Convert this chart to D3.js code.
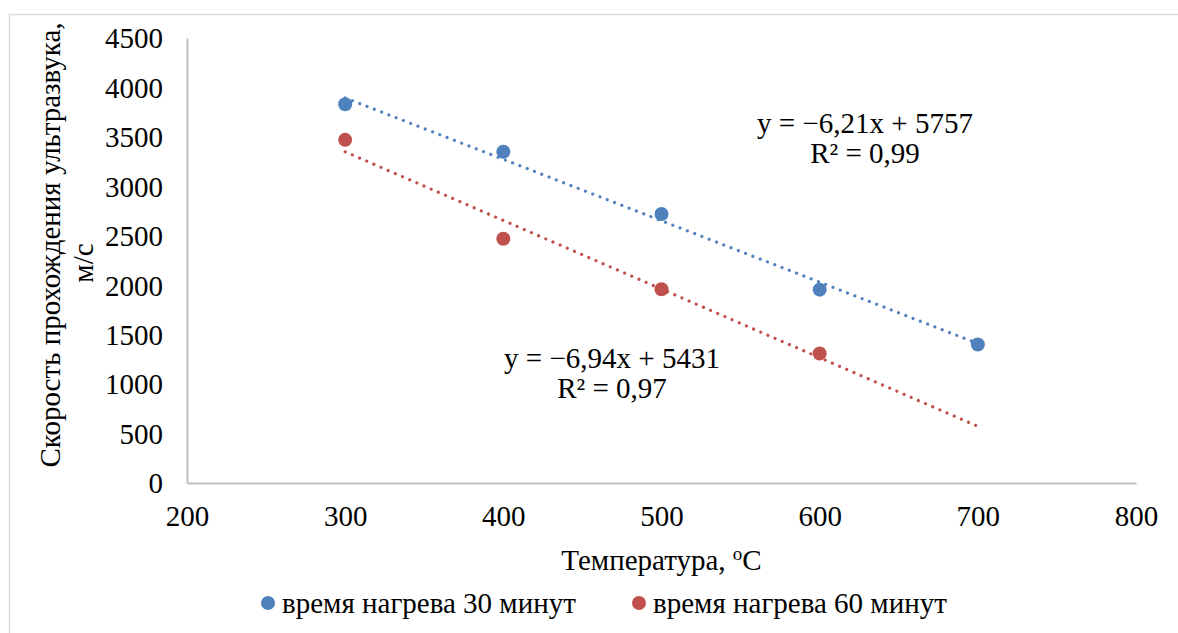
<!DOCTYPE html>
<html>
<head>
<meta charset="utf-8">
<script src="https://cdn.jsdelivr.net/npm/d3@7"></script>
<style>
  body { margin: 0; background: #fff; }
  svg text { font-family: "Liberation Serif", Tinos, "Times New Roman", Times, "DejaVu Serif", serif !important; fill: #000; }
</style>
</head>
<body>
<svg id="chart" width="1178" height="633"></svg>
<script>
// data
var temps30 = [300, 400, 500, 600, 700];
var speed30 = [3830, 3350, 2720, 1955, 1400];
var temps60 = [300, 400, 500, 600];
var speed60 = [3470, 2470, 1960, 1310];

// trend lines (from the equations on the chart)
var trendRange = [300, 700];
var trend30 = [-6.21, 5757];
var trend60 = [-6.94, 5431];
var trendLabels30 = ["y = \u22126,21x + 5757", "R\u00b2 = 0,99"];
var trendLabels60 = ["y = \u22126,94x + 5431", "R\u00b2 = 0,97"];

var xTicks = [200, 300, 400, 500, 600, 700, 800];
var yTicks = [0, 500, 1000, 1500, 2000, 2500, 3000, 3500, 4000, 4500];
var seriesNames = ["время нагрева 30 минут", "время нагрева 60 минут"];
var colors = ["#4f81bd", "#c0504d"];

var svg = d3.select("#chart");
var fs = 29;

// outer frame
svg.append("rect").attr("x", 9.5).attr("y", 14.5).attr("width", 1200).attr("height", 700)
  .attr("fill", "none").attr("stroke", "#d9d9d9").attr("stroke-width", 1.5);

var x = d3.scaleLinear().domain([200, 800]).range([187, 1136]);
var y = d3.scaleLinear().domain([0, 4500]).range([483, 38]);

// axes
var xAxis = svg.append("g").attr("transform", "translate(0," + y(0) + ")")
  .call(d3.axisBottom(x).tickValues(xTicks).tickSize(0).tickPadding(22).tickFormat(d3.format("d")));
var yAxis = svg.append("g").attr("transform", "translate(" + x(200) + ",0)")
  .call(d3.axisLeft(y).tickValues(yTicks).tickSize(0).tickPadding(24).tickFormat(d3.format("d")));
[xAxis, yAxis].forEach(function(a) {
  a.attr("font-family", null).attr("font-size", fs);
  a.select(".domain").attr("stroke", "#bfbfbf").attr("stroke-width", 2);
  a.selectAll("text").attr("fill", "#000");
});
yAxis.selectAll("text").attr("dy", "0.34em");

// axis titles
svg.append("text").attr("x", (x(200) + x(800)) / 2).attr("y", 570)
  .attr("text-anchor", "middle").attr("font-size", fs)
  .html("Температура, <tspan baseline-shift=\"super\" font-size=\"19\">o</tspan>С");
svg.append("text").attr("transform", "translate(60,245) rotate(-90)")
  .attr("text-anchor", "middle").attr("font-size", fs)
  .text("Скорость прохождения ультразвука,");
svg.append("text").attr("transform", "translate(93,263) rotate(-90)")
  .attr("text-anchor", "middle").attr("font-size", fs)
  .text("м/с");

// trend lines
function drawTrend(coef, color) {
  var pts = trendRange.map(function(t) { return [x(t), y(coef[0] * t + coef[1])]; });
  svg.append("path").attr("d", d3.line()(pts))
    .attr("fill", "none").attr("stroke", color).attr("stroke-width", 3.2)
    .attr("stroke-linecap", "round").attr("stroke-dasharray", "0.01 7.8");
}
drawTrend(trend30, colors[0]);
drawTrend(trend60, colors[1]);

// points
function drawPoints(xs, ys, color) {
  svg.append("g").selectAll("circle").data(xs).enter().append("circle")
    .attr("cx", function(d) { return x(d); })
    .attr("cy", function(d, i) { return y(ys[i]); })
    .attr("r", 7).attr("fill", color);
}
drawPoints(temps30, speed30, colors[0]);
drawPoints(temps60, speed60, colors[1]);

// equation labels
function drawLabel(lines, cx, by) {
  lines.forEach(function(l, i) {
    svg.append("text").attr("x", cx).attr("y", by + i * 30)
      .attr("text-anchor", "middle").attr("font-size", fs).text(l);
  });
}
drawLabel(trendLabels30, 865, 133);
drawLabel(trendLabels60, 612, 368);

// legend
var legendX = [268, 639];
seriesNames.forEach(function(name, i) {
  svg.append("circle").attr("cx", legendX[i]).attr("cy", 603).attr("r", 7).attr("fill", colors[i]);
  svg.append("text").attr("x", legendX[i] + 14).attr("y", 613).attr("font-size", fs).text(name);
});
</script>
</body>
</html>
